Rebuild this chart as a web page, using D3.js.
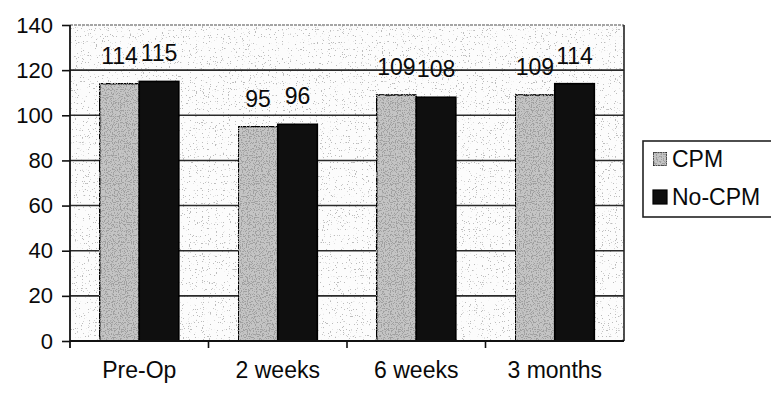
<!DOCTYPE html>
<html>
<head>
<meta charset="utf-8">
<script src="https://cdn.jsdelivr.net/npm/d3@7"></script>
<style>
  html, body { margin: 0; padding: 0; background: #fff; }
  #chart { width: 771px; height: 397px; }
</style>
</head>
<body>
<div id="chart"></div>
<script>
// ---------------------------------------------------------------------------
// Data
// ---------------------------------------------------------------------------
const categories = ['Pre-Op', '2 weeks', '6 weeks', '3 months'];
const seriesNames = ['CPM', 'No-CPM'];
const cpmValues = [114, 95, 109, 109];
const noCpmValues = [115, 96, 108, 114];
const yTicks = [0, 20, 40, 60, 80, 100, 120, 140];

(function() {
  'use strict';

  const width = 771, height = 397;
  const plot = { left: 70, right: 624, top: 25, bottom: 341 };
  const font = '"Liberation Sans", Arial, sans-serif';
  const colors = { 'CPM': '#c4c4c4', 'No-CPM': '#0f0f0f' };

  const svg = d3.select('#chart')
    .append('svg')
    .attr('width', width)
    .attr('height', height)
    .attr('viewBox', `0 0 ${width} ${height}`);

  // Speckle filters, imitate the scanned halftone
  // (grey = dot shade, a/b = alpha ramp on the noise value)
  const defs = svg.append('defs');
  function addSpeckle(id, grey, a, b, seed) {
    const f = defs.append('filter').attr('id', id)
      .attr('x', 0).attr('y', 0).attr('width', 1).attr('height', 1);
    f.append('feTurbulence')
      .attr('type', 'fractalNoise')
      .attr('baseFrequency', 0.85)
      .attr('numOctaves', 1)
      .attr('seed', seed)
      .attr('result', 'noise');
    f.append('feColorMatrix')
      .attr('in', 'noise')
      .attr('type', 'matrix')
      .attr('values', `0 0 0 0 ${grey}  0 0 0 0 ${grey}  0 0 0 0 ${grey}  0 0 0 ${a} ${b}`)
      .attr('result', 'dots');
    f.append('feComposite')
      .attr('in', 'dots').attr('in2', 'SourceGraphic').attr('operator', 'in')
      .attr('result', 'clipped');
    f.append('feMerge').call(m => {
      m.append('feMergeNode').attr('in', 'SourceGraphic');
      m.append('feMergeNode').attr('in', 'clipped');
    });
  }
  addSpeckle('speckleLight', 0.5, -22, 7.6, 3);
  addSpeckle('speckleDense', 0.35, -14, 6.6, 7);

  // Scales
  const y = d3.scaleLinear().domain([0, 140]).range([plot.bottom, plot.top]);
  const x0 = d3.scaleBand().domain(categories).range([plot.left, plot.right]).padding(0);
  const x1 = d3.scaleBand().domain(seriesNames).range([0, x0.bandwidth()])
    .paddingInner(0).paddingOuter(0.75);

  const rows = categories.map((c, i) => ({
    category: c,
    values: [
      { series: 'CPM', value: cpmValues[i] },
      { series: 'No-CPM', value: noCpmValues[i] }
    ]
  }));

  // Plot area background
  svg.append('rect')
    .attr('x', plot.left).attr('y', plot.top)
    .attr('width', plot.right - plot.left)
    .attr('height', plot.bottom - plot.top)
    .attr('fill', '#fcfcfc')
    .attr('filter', 'url(#speckleLight)')
    .attr('stroke', 'none');

  // Gridlines
  svg.append('g')
    .selectAll('line')
    .data(yTicks.filter(t => t > 0))
    .join('line')
    .attr('x1', plot.left).attr('x2', plot.right)
    .attr('y1', d => y(d)).attr('y2', d => y(d))
    .attr('stroke', d => d === 140 ? '#888' : '#2a2a2a')
    .attr('stroke-dasharray', d => d === 140 ? '3,1' : null)
    .attr('stroke-width', 1.6);

  // Right border
  svg.append('line')
    .attr('x1', plot.right).attr('x2', plot.right)
    .attr('y1', plot.top).attr('y2', plot.bottom)
    .attr('stroke', '#222').attr('stroke-width', 1.6);

  // Bars
  const group = svg.append('g')
    .selectAll('g')
    .data(rows)
    .join('g')
    .attr('transform', d => `translate(${x0(d.category)},0)`);

  group.selectAll('rect')
    .data(d => d.values)
    .join('rect')
    .attr('x', d => x1(d.series))
    .attr('y', d => y(d.value))
    .attr('width', x1.bandwidth())
    .attr('height', d => y(0) - y(d.value))
    .attr('fill', d => colors[d.series])
    .attr('filter', d => d.series === 'CPM' ? 'url(#speckleDense)' : null)
    .attr('stroke', '#000')
    .attr('stroke-width', 1.6);

  // Data labels
  group.selectAll('text')
    .data(d => d.values)
    .join('text')
    .attr('x', d => x1(d.series) + x1.bandwidth() / 2)
    .attr('y', d => y(d.value) - 20)
    .attr('text-anchor', 'middle')
    .attr('font-family', font)
    .attr('font-size', '23px')
    .attr('fill', '#0a0a0a')
    .text(d => d.value);

  // Y axis
  const yAxis = svg.append('g')
    .attr('transform', `translate(${plot.left},0)`)
    .call(d3.axisLeft(y).tickValues(yTicks).tickSize(8).tickPadding(9).tickSizeOuter(0));
  yAxis.select('.domain').attr('stroke', '#111').attr('stroke-width', 1.8)
    .attr('d', `M0,${plot.top}V${plot.bottom + 7}`);
  yAxis.selectAll('.tick line').attr('stroke', '#111').attr('stroke-width', 1.6);
  yAxis.selectAll('.tick text')
    .attr('font-family', font).attr('font-size', '22px').attr('fill', '#0a0a0a');

  // X axis, ticks at category boundaries
  const xAxis = svg.append('g')
    .attr('transform', `translate(0,${plot.bottom})`)
    .call(d3.axisBottom(x0).tickSize(0).tickPadding(21));
  xAxis.select('.domain').attr('stroke', '#111').attr('stroke-width', 1.8)
    .attr('d', `M${plot.left},0H${plot.right}`);
  xAxis.selectAll('.tick text')
    .attr('font-family', font).attr('font-size', '23px').attr('fill', '#0a0a0a');
  xAxis.append('g')
    .selectAll('line')
    .data(categories.slice(1))
    .join('line')
    .attr('x1', d => x0(d)).attr('x2', d => x0(d))
    .attr('y1', 0).attr('y2', 7)
    .attr('stroke', '#111').attr('stroke-width', 1.6);

  // Legend
  const legend = svg.append('g').attr('transform', 'translate(643,141)');
  legend.append('rect')
    .attr('width', 140).attr('height', 76)
    .attr('fill', '#fff').attr('stroke', '#222').attr('stroke-width', 1.6);
  const item = legend.selectAll('g.item')
    .data(seriesNames)
    .join('g')
    .attr('class', 'item')
    .attr('transform', (d, i) => `translate(10,${18 + i * 38})`);
  item.append('rect')
    .attr('y', -7).attr('width', 14).attr('height', 14)
    .attr('fill', d => colors[d])
    .attr('filter', d => d === 'CPM' ? 'url(#speckleDense)' : null)
    .attr('stroke', '#000').attr('stroke-width', 1.2);
  item.append('text')
    .attr('x', 19).attr('dy', '0.36em')
    .attr('font-family', font).attr('font-size', '23px').attr('fill', '#0a0a0a')
    .text(d => d);
})();
</script>
</body>
</html>
